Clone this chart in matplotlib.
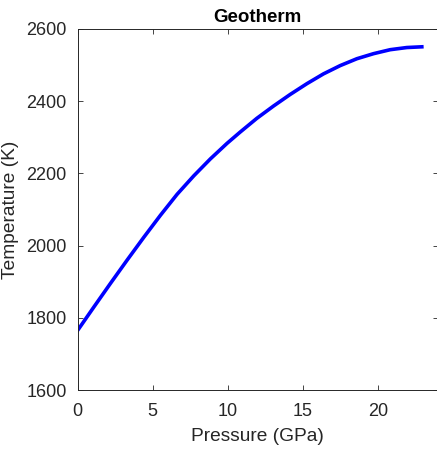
import matplotlib
matplotlib.use("Agg")
import matplotlib.pyplot as plt

# geotherm
pressure = [0, 1.07, 2.17, 3.29, 4.4, 5.51, 6.62, 7.73, 8.84, 9.95, 10.82, 11.93,
            13.04, 14.15, 15.27, 16.37, 17.49, 18.6, 19.71, 20.82, 21.93, 22.93]
temperature = [1766, 1830, 1895, 1960, 2023, 2084, 2142, 2193, 2240, 2283, 2314, 2352,
               2386, 2418, 2448, 2475, 2498, 2517, 2531, 2542, 2548, 2550]

xticks = [0, 5, 10, 15, 20]
yticks = [1600, 1800, 2000, 2200, 2400, 2600]

plt.rcParams['font.family'] = ['Liberation Sans', 'DejaVu Sans']
grey = '#262626'

fig = plt.figure(figsize=(4.37, 4.49), dpi=100)
ax = fig.add_axes([0.178, 0.131, 0.824, 0.805])

ax.plot(pressure, temperature, color='#0000ff', linewidth=2.6)

ax.set_xlim(0, 24)
ax.set_ylim(1600, 2600)
ax.set_xticks(xticks)
ax.set_yticks(yticks)

ax.tick_params(direction='in', length=3.5, width=0.6, colors=grey,
               labelsize=13, top=True, right=True)
ax.tick_params(axis='x', pad=9)
ax.tick_params(axis='y', pad=8)
for s in ax.spines.values():
    s.set_color(grey)
    s.set_linewidth(0.7)

ax.set_xlabel('Pressure (GPa)', fontsize=13.8, color=grey, labelpad=6)
ax.set_ylabel('Temperature (K)', fontsize=13.8, color=grey, labelpad=5)
ax.set_title('Geotherm', fontsize=13.5, fontweight='bold', pad=5)

fig.savefig('out.png', dpi=100)
